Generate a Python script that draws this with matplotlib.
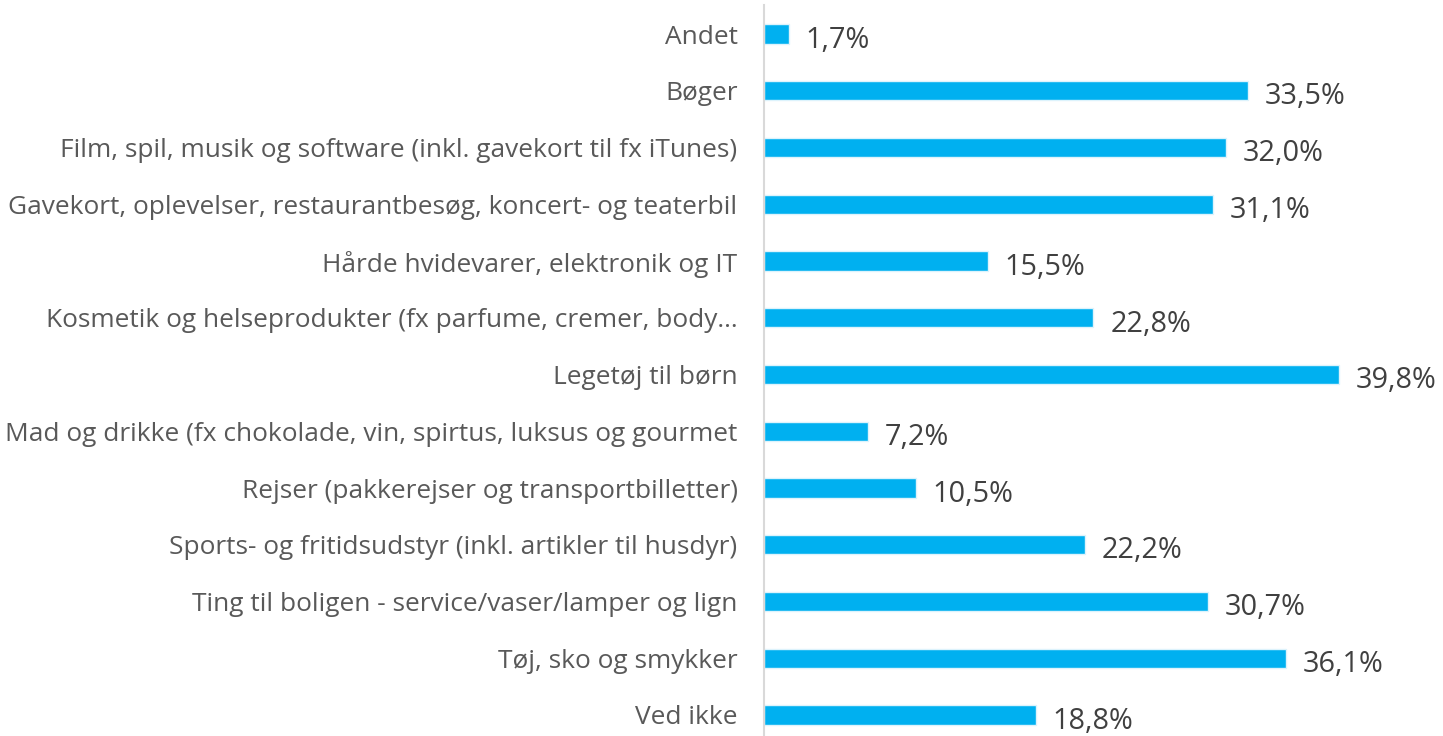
import matplotlib
matplotlib.use("Agg")
import matplotlib.pyplot as plt

categories = [
    "Andet",
    "Bøger",
    "Film, spil, musik og software (inkl. gavekort til fx iTunes)",
    "Gavekort, oplevelser, restaurantbesøg, koncert- og teaterbil",
    "Hårde hvidevarer, elektronik og IT",
    "Kosmetik og helseprodukter (fx parfume, cremer, body…",
    "Legetøj til børn",
    "Mad og drikke (fx chokolade, vin, spirtus, luksus og gourmet",
    "Rejser (pakkerejser og transportbilletter)",
    "Sports- og fritidsudstyr (inkl. artikler til husdyr)",
    "Ting til boligen - service/vaser/lamper og lign",
    "Tøj, sko og smykker",
    "Ved ikke",
]
values = [1.7, 33.5, 32.0, 31.1, 15.5, 22.8, 39.8, 7.2, 10.5, 22.2, 30.7, 36.1, 18.8]
labels = ["1,7%", "33,5%", "32,0%", "31,1%", "15,5%", "22,8%", "39,8%", "7,2%",
          "10,5%", "22,2%", "30,7%", "36,1%", "18,8%"]

plt.rcParams['font.family'] = ['Open Sans', 'DejaVu Sans']

W, H = 1443, 736
fig = plt.figure(figsize=(W/100, H/100), dpi=100)
ax_left = 764 / W
ax_top = 5
ax_bottom = 736
ax = fig.add_axes([ax_left, 0, 1 - ax_left, (ax_bottom - ax_top) / H])

n = len(categories)
ypos = list(range(n))
ax.barh(ypos, values, height=0.34, color="#00B0F0", edgecolor="#DDF3FC", linewidth=1.0)

spacing = 56.75
ax.set_ylim(n - 1 + 21/spacing, -29/spacing)
ax.set_xlim(0, (W - 764) / 14.45)

for y, v, lab in zip(ypos, values, labels):
    ax.annotate(lab, xy=(v, y), xytext=(12, -4.5), textcoords="offset points",
                ha="left", va="center", fontsize=20.8, color="#404040")

ax.set_yticks(ypos)
ax.set_yticklabels(categories, fontsize=18.9, color="#595959")
ax.tick_params(axis="y", length=0, pad=19)
ax.set_xticks([])
for s in ["top", "right", "bottom"]:
    ax.spines[s].set_visible(False)
ax.spines["left"].set_color("#D9D9D9")
ax.spines["left"].set_linewidth(1.5)

fig.savefig("out.png", dpi=100)
